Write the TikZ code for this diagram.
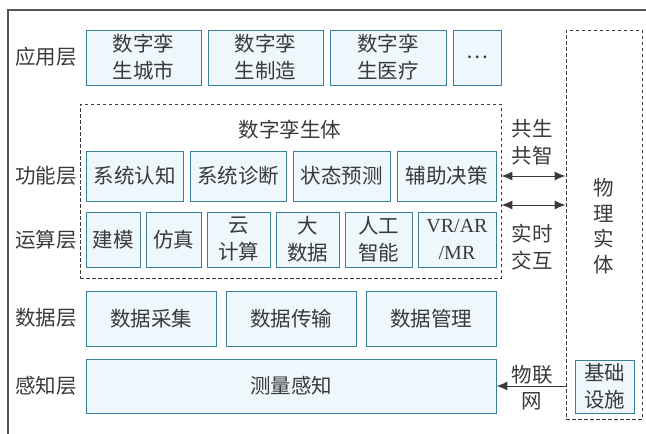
\documentclass[tikz,border=0pt]{standalone}
\usepackage{fontspec}
\setmainfont{Liberation Serif}
\newfontfamily\cjk{Noto Sans CJK SC}
\usetikzlibrary{arrows.meta}
\definecolor{boxc}{HTML}{3A8198}
\definecolor{boxf}{HTML}{EEF7FC}
\definecolor{txt}{HTML}{3A3A3A}
\definecolor{framec}{HTML}{555555}
\tikzset{
  box/.style={draw=boxc, fill=boxf, line width=0.9pt, inner sep=0pt, align=center, text=txt, font=\cjk\fontsize{20.5}{27}\selectfont},
  lbl/.style={inner sep=0pt, align=center, text=txt, font=\cjk\fontsize{20.5}{27}\selectfont},
  dbox/.style={draw=txt, line width=0.9pt, dash pattern=on 3.5pt off 2.5pt, inner sep=0pt},
  arr/.style={draw=txt, line width=1pt, -{Latex[length=11pt,width=9pt]}},
  darr/.style={draw=txt, line width=1pt, {Latex[length=11pt,width=9pt]}-{Latex[length=11pt,width=9pt]}}
}
\begin{document}
\begin{tikzpicture}[x=1pt,y=-1pt]
\useasboundingbox (0,0) rectangle (646,434);
\draw[framec, line width=1.3pt] (8,434) -- (8,10) -- (646,10);
% dashed containers
\node[dbox, minimum width=421pt, minimum height=174pt] (twin) at (290.5,191) {};
\node[dbox, minimum width=76pt, minimum height=389pt] (phys) at (604,224.5) {};
% layer labels
\node[lbl] (L1) at (46,57) {应用层};
\node[lbl] (L2) at (46,176) {功能层};
\node[lbl] (L3) at (46,240) {运算层};
\node[lbl] (L4) at (46,318) {数据层};
\node[lbl] (L5) at (46,386) {感知层};
% application
\node[box, minimum width=115pt, minimum height=55pt] (a1) at (143.5,57.5) {数字孪\\生城市};
\node[box, minimum width=115pt, minimum height=55pt] (a2) at (265.5,57.5) {数字孪\\生制造};
\node[box, minimum width=116pt, minimum height=55pt] (a3) at (388,57.5) {数字孪\\生医疗};
\node[box, minimum width=48pt, minimum height=55pt] (a4) at (477,57.5) {…};
% twin title
\node[lbl] (tt) at (290,130) {数字孪生体};
% function
\node[box, minimum width=97pt, minimum height=50pt] (f1) at (134.5,176) {系统认知};
\node[box, minimum width=96pt, minimum height=50pt] (f2) at (238,176) {系统诊断};
\node[box, minimum width=97pt, minimum height=50pt] (f3) at (341.5,176) {状态预测};
\node[box, minimum width=99pt, minimum height=50pt] (f4) at (446.5,176) {辅助决策};
% compute
\node[box, minimum width=54pt, minimum height=55pt] (c1) at (113,239.5) {建模};
\node[box, minimum width=55pt, minimum height=55pt] (c2) at (173.5,239.5) {仿真};
\node[box, minimum width=63pt, minimum height=55pt] (c3) at (238.5,239.5) {云\\计算};
\node[box, minimum width=63pt, minimum height=55pt] (c4) at (307.5,239.5) {大\\数据};
\node[box, minimum width=67pt, minimum height=55pt] (c5) at (378.5,239.5) {人工\\智能};
\node[box, minimum width=78pt, minimum height=55pt, font=\fontsize{20}{27}\selectfont] (c6) at (457,239.5) {VR/AR\\/MR};
% data
\node[box, minimum width=130pt, minimum height=55pt] (d1) at (151,318.5) {数据采集};
\node[box, minimum width=130pt, minimum height=55pt] (d2) at (291,318.5) {数据传输};
\node[box, minimum width=130pt, minimum height=55pt] (d3) at (431,318.5) {数据管理};
% sensing
\node[box, minimum width=410pt, minimum height=54pt] (s1) at (291,386) {测量感知};
% physical
\node[lbl, font=\cjk\fontsize{20.5}{25.5}\selectfont] (pt) at (604,226) {物\\理\\实\\体};
\node[box, minimum width=59pt, minimum height=53pt] (infra) at (604.5,386.5) {基础\\设施};
% arrows
\coordinate (m2) at (0,205);
\draw[darr] (f4.east -| twin.east) -- (f4.east -| phys.west);
\draw[darr] (m2 -| twin.east) -- (m2 -| phys.west);
\draw[arr] (s1.east -| phys.west) -- (s1.east);
\node[lbl] (t1) at (532,142) {共生\\共智};
\node[lbl] (t2) at (532,247) {实时\\交互};
\node[lbl] (t3) at (532,375) {物联};
\node[lbl] (t4) at (532,401) {网};
\end{tikzpicture}
\end{document}
